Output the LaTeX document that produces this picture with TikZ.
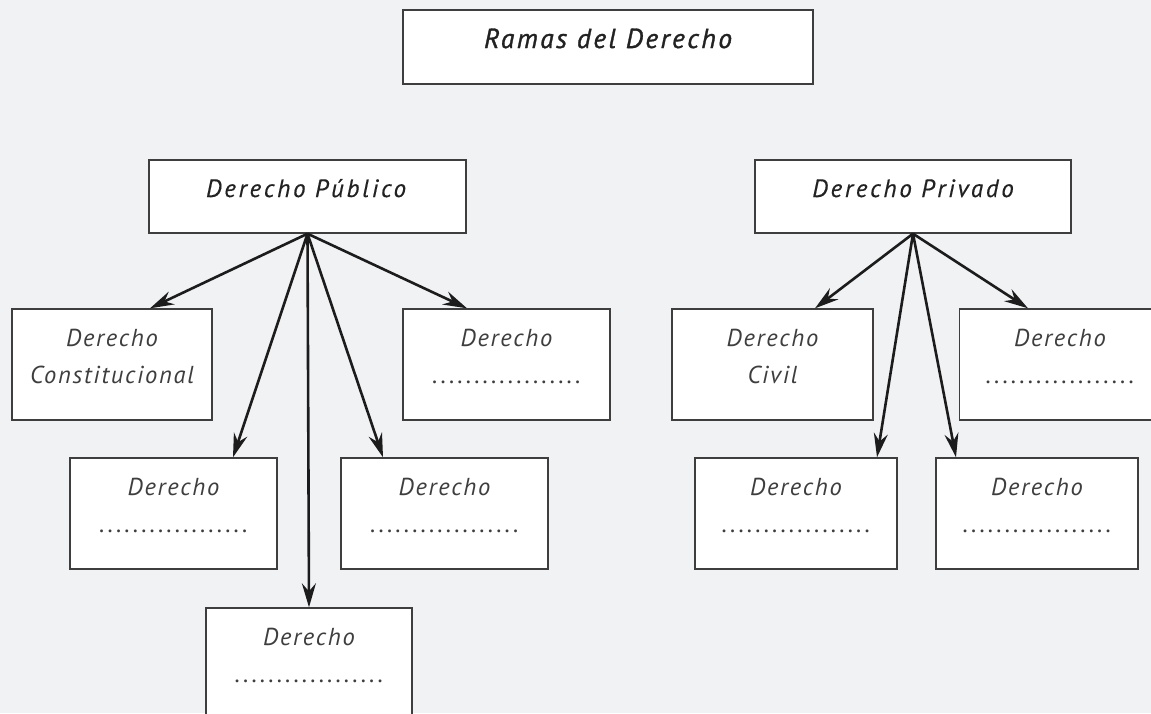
\documentclass[tikz,border=0pt]{standalone}
\usepackage{fontspec}
\setmainfont{PT Sans}
\newfontfamily\kidfont[LetterSpace=7]{PT Sans}
\newfontfamily\dotfont[LetterSpace=13]{PT Sans}
\newfontfamily\headfont[LetterSpace=11,FakeBold=0.4]{PT Sans}
\newfontfamily\titfont[LetterSpace=9,FakeBold=1.2]{PT Sans}
\usetikzlibrary{arrows.meta,calc}
\definecolor{bg}{RGB}{241,242,244}
\definecolor{frame}{RGB}{62,62,62}
\definecolor{txt}{RGB}{62,62,62}
\definecolor{headtxt}{RGB}{34,34,34}
\definecolor{arr}{RGB}{28,28,28}
\begin{document}
\begin{tikzpicture}[x=1pt,y=-1pt,
  box/.style={draw=frame, line width=1.4pt, fill=white, inner sep=0pt},
  kid/.style={box, minimum width=#1, minimum height=111pt},
  lbl/.style={anchor=base, inner sep=0pt, font=\kidfont\fontsize{24.5}{29}\selectfont\itshape, text=txt},
  dots/.style={anchor=base, inner sep=0pt, font=\dotfont\fontsize{24.5}{29}\selectfont\itshape, text=txt},
  head/.style={anchor=base, inner sep=0pt, font=\headfont\fontsize{25}{30}\selectfont\itshape, text=headtxt},
  titlefont/.style={anchor=base, inner sep=0pt, font=\titfont\fontsize{27.5}{33}\selectfont\itshape, text=headtxt},
  arrow/.style={draw=arr, line width=2.6pt, -{Stealth[length=24pt,width=14pt,inset=8pt]}}
]
\fill[bg] (0,0) rectangle (1151,713);
\useasboundingbox (0,0) rectangle (1151,713);

% title
\node[box, minimum width=410pt, minimum height=74pt] (title) at (608,47) {};
\node[titlefont] (titletext) at (608,48) {Ramas del Derecho};

% parents
\node[box, minimum width=317pt, minimum height=73pt] (pub) at (307.5,196.5) {};
\node[head] (pubt) at (306,197) {Derecho Público};
\node[box, minimum width=316pt, minimum height=73pt] (priv) at (913,196.5) {};
\node[head] (privt) at (913,197) {Derecho Privado};

% children of Derecho Publico
\node[kid=200pt] (c1) at (112,364.5) {};
\node[lbl] (c1a) at (112,346) {Derecho};
\node[lbl] (c1b) at (112,383) {Constitucional};

\node[kid=207pt] (c2) at (173.5,513.5) {};
\node[lbl] (c2a) at (173.5,495) {Derecho};
\node[dots] (c2b) at (173.5,532) {..................};

\node[kid=206pt] (c3) at (309,663.5) {};
\node[lbl] (c3a) at (309,645) {Derecho};
\node[dots] (c3b) at (309,682) {..................};

\node[kid=207pt] (c4) at (444.5,513.5) {};
\node[lbl] (c4a) at (444.5,495) {Derecho};
\node[dots] (c4b) at (444.5,532) {..................};

\node[kid=207pt] (c5) at (506.5,364.5) {};
\node[lbl] (c5a) at (506.5,346) {Derecho};
\node[dots] (c5b) at (506.5,383) {..................};

% children of Derecho Privado
\node[kid=201pt] (d1) at (772.5,364.5) {};
\node[lbl] (d1a) at (772.5,346) {Derecho};
\node[lbl] (d1b) at (772.5,383) {Civil};

\node[kid=202pt] (d2) at (796,513.5) {};
\node[lbl] (d2a) at (796,495) {Derecho};
\node[dots] (d2b) at (796,532) {..................};

\node[kid=202pt] (d3) at (1037,513.5) {};
\node[lbl] (d3a) at (1037,495) {Derecho};
\node[dots] (d3b) at (1037,532) {..................};

\node[kid=201pt] (d4) at (1060,364.5) {};
\node[lbl] (d4a) at (1060,346) {Derecho};
\node[dots] (d4b) at (1060,383) {..................};

% arrows
\draw[arrow] (pub.south) -- ($(c1.north)+(38,0)$);
\draw[arrow] (pub.south) -- ($(c2.north)+(59.5,0)$);
\draw[arrow] (pub.south) -- ($(c3.north)+(0,0)$);
\draw[arrow] (pub.south) -- ($(c4.north)+(-61.5,0)$);
\draw[arrow] (pub.south) -- ($(c5.north)+(-39.5,0)$);

\draw[arrow] (priv.south) -- ($(d1.north)+(42.5,0)$);
\draw[arrow] (priv.south) -- ($(d2.north)+(81,0)$);
\draw[arrow] (priv.south) -- ($(d3.north)+(-81,0)$);
\draw[arrow] (priv.south) -- ($(d4.north)+(-32,0)$);
\end{tikzpicture}
\end{document}
